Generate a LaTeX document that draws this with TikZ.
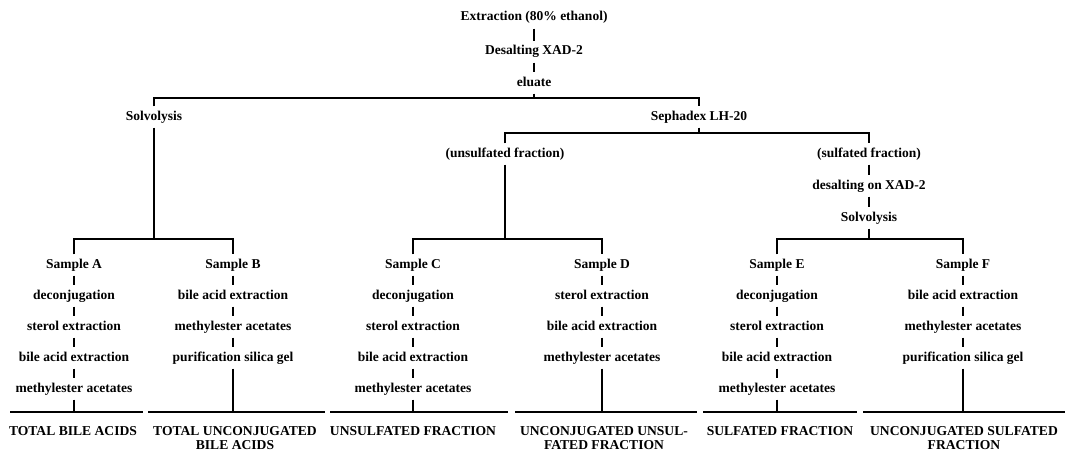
\documentclass[tikz,border=0pt]{standalone}
\usepackage{fontspec}
\setmainfont{Liberation Serif}
\begin{document}
\begin{tikzpicture}[x=1pt,y=-1pt,
  lbl/.style={font=\bfseries\fontsize{13.5}{14}\selectfont, text height=9pt, text depth=3pt, inner sep=4.5pt},
  res/.style={font=\bfseries\fontsize{13.6}{14.5}\selectfont, align=center, anchor=north, inner sep=0pt},
  ln/.style={line width=1.5pt},
  bar/.style={line width=1.7pt}]
\useasboundingbox (0,0) rectangle (1065,452);
% top trunk
\node[lbl] (ext) at (534,18) {Extraction (80\% ethanol)};
\node[lbl] (des) at (534,52) {Desalting XAD-2};
\node[lbl] (elu) at (534,83) {eluate};
\coordinate (bar1) at (0,98);
\node[lbl] (solvL) at (154,117) {Solvolysis};
\node[lbl] (seph) at (699,117) {Sephadex LH-20};
\coordinate (bar2) at (0,133);
\node[lbl] (uns) at (505,154) {(unsulfated fraction)};
\node[lbl] (sul) at (869,154) {(sulfated fraction)};
\node[lbl] (desR) at (869,186) {desalting on XAD-2};
\node[lbl] (solvR) at (869,218) {Solvolysis};
\coordinate (bar3) at (0,239);
% column A
\node[lbl] (sA) at (74,265) {Sample A};
\node[lbl] (a1) at (74,296) {deconjugation};
\node[lbl] (a2) at (74,327) {sterol extraction};
\node[lbl] (a3) at (74,358) {bile acid extraction};
\node[lbl] (a4) at (74,389) {methylester acetates};
% column B
\node[lbl] (sB) at (233,265) {Sample B};
\node[lbl] (bb1) at (233,296) {bile acid extraction};
\node[lbl] (bb2) at (233,327) {methylester acetates};
\node[lbl] (bb3) at (233,358) {purification silica gel};
% column C
\node[lbl] (sC) at (413,265) {Sample C};
\node[lbl] (c1) at (413,296) {deconjugation};
\node[lbl] (c2) at (413,327) {sterol extraction};
\node[lbl] (c3) at (413,358) {bile acid extraction};
\node[lbl] (c4) at (413,389) {methylester acetates};
% column D
\node[lbl] (sD) at (602,265) {Sample D};
\node[lbl] (d1) at (602,296) {sterol extraction};
\node[lbl] (d2) at (602,327) {bile acid extraction};
\node[lbl] (d3) at (602,358) {methylester acetates};
% column E
\node[lbl] (sE) at (777,265) {Sample E};
\node[lbl] (e1) at (777,296) {deconjugation};
\node[lbl] (e2) at (777,327) {sterol extraction};
\node[lbl] (e3) at (777,358) {bile acid extraction};
\node[lbl] (e4) at (777,389) {methylester acetates};
% column F
\node[lbl] (sF) at (963,265) {Sample F};
\node[lbl] (f1) at (963,296) {bile acid extraction};
\node[lbl] (f2) at (963,327) {methylester acetates};
\node[lbl] (f3) at (963,358) {purification silica gel};
% bottom bars
\coordinate (aL) at (10,412);  \coordinate (aR) at (143,412);
\coordinate (bL) at (148,412); \coordinate (bR) at (325,412);
\coordinate (cL) at (330,412); \coordinate (cR) at (508,412);
\coordinate (dL) at (515,412); \coordinate (dR) at (697,412);
\coordinate (eL) at (703,412); \coordinate (eR) at (857,412);
\coordinate (fL) at (863,412); \coordinate (fR) at (1065,412);
% results
\node[res] (rA) at (73,426) {TOTAL BILE ACIDS};
\node[res] (rB) at (235,426) {TOTAL UNCONJUGATED\\BILE ACIDS};
\node[res] (rC) at (413,426) {UNSULFATED FRACTION};
\node[res] (rD) at (604,426) {UNCONJUGATED UNSUL-\\FATED FRACTION};
\node[res] (rE) at (780,426) {SULFATED FRACTION};
\node[res] (rF) at (964,426) {UNCONJUGATED SULFATED\\FRACTION};
% connectors: trunk
\draw[ln] (ext.south) -- (des.north);
\draw[ln] (des.south) -- (elu.north);
\draw[ln] (elu.south) -- (elu.south |- bar1);
\draw[ln] (solvL.north) -- (solvL.north |- bar1) -- (seph.north |- bar1) -- (seph.north);
\draw[ln] (seph.south) -- (seph.south |- bar2);
\draw[ln] (uns.north) -- (uns.north |- bar2) -- (sul.north |- bar2) -- (sul.north);
\draw[ln] (sul.south) -- (desR.north);
\draw[ln] (desR.south) -- (solvR.north);
% branches to samples
\draw[ln] (solvL.south) -- (solvL.south |- bar3);
\draw[ln] (sA.north) -- (sA.north |- bar3) -- (sB.north |- bar3) -- (sB.north);
\draw[ln] (uns.south) -- (uns.south |- bar3);
\draw[ln] (sC.north) -- (sC.north |- bar3) -- (sD.north |- bar3) -- (sD.north);
\draw[ln] (solvR.south) -- (solvR.south |- bar3);
\draw[ln] (sE.north) -- (sE.north |- bar3) -- (sF.north |- bar3) -- (sF.north);
% column chains
\draw[ln] (sA) -- (a1); \draw[ln] (a1) -- (a2); \draw[ln] (a2) -- (a3); \draw[ln] (a3) -- (a4);
\draw[ln] (sB) -- (bb1); \draw[ln] (bb1) -- (bb2); \draw[ln] (bb2) -- (bb3);
\draw[ln] (sC) -- (c1); \draw[ln] (c1) -- (c2); \draw[ln] (c2) -- (c3); \draw[ln] (c3) -- (c4);
\draw[ln] (sD) -- (d1); \draw[ln] (d1) -- (d2); \draw[ln] (d2) -- (d3);
\draw[ln] (sE) -- (e1); \draw[ln] (e1) -- (e2); \draw[ln] (e2) -- (e3); \draw[ln] (e3) -- (e4);
\draw[ln] (sF) -- (f1); \draw[ln] (f1) -- (f2); \draw[ln] (f2) -- (f3);
% to bottom bars
\draw[ln] (a4.south) -- (a4.south |- aL);
\draw[ln] (bb3.south) -- (bb3.south |- bL);
\draw[ln] (c4.south) -- (c4.south |- cL);
\draw[ln] (d3.south) -- (d3.south |- dL);
\draw[ln] (e4.south) -- (e4.south |- eL);
\draw[ln] (f3.south) -- (f3.south |- fL);
\draw[bar] (aL) -- (aR);
\draw[bar] (bL) -- (bR);
\draw[bar] (cL) -- (cR);
\draw[bar] (dL) -- (dR);
\draw[bar] (eL) -- (eR);
\draw[bar] (fL) -- (fR);
\end{tikzpicture}
\end{document}
